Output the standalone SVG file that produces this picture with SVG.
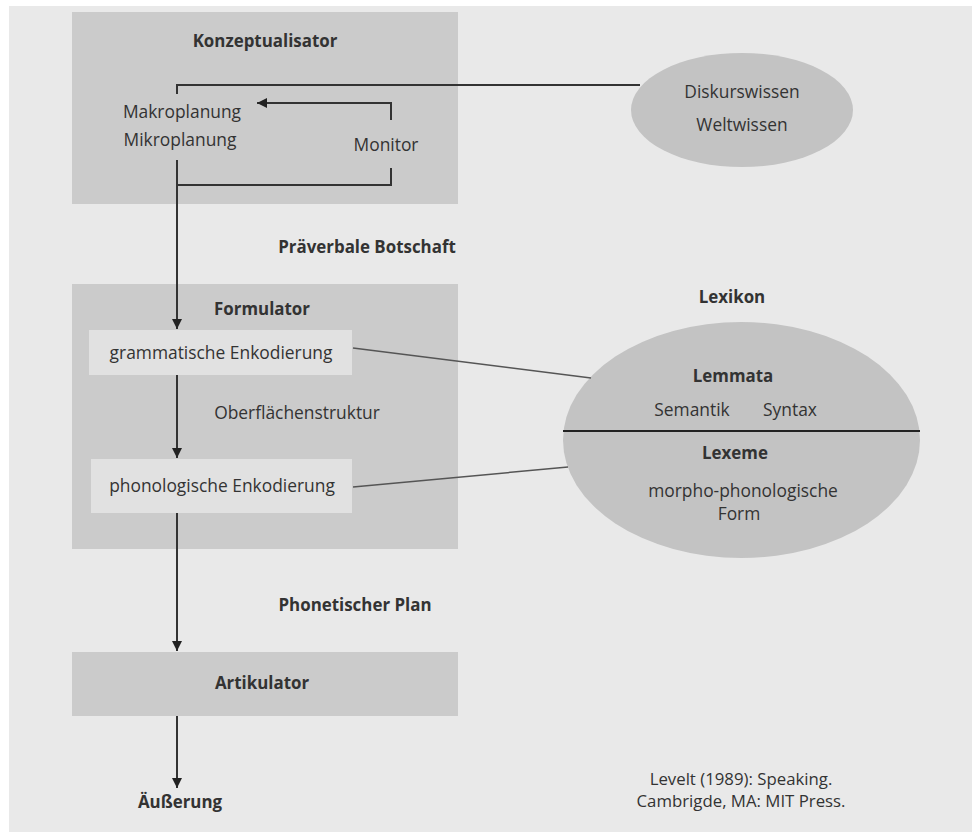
<svg xmlns="http://www.w3.org/2000/svg" width="972" height="832" viewBox="0 0 972 832">
<style>
text{font-family:"Open Sans","Noto Sans","Liberation Sans",sans-serif;font-size:17.4px;fill:#333;text-anchor:middle}
.b{font-weight:bold;font-size:16.9px}
.cit{font-size:16.8px}
.box{fill:#cbcbcb}
.inner{fill:#e1e1e1}
.ell{fill:#c3c3c3}
.ln{stroke:#333;stroke-width:2;fill:none}
.thin{stroke:#555;stroke-width:1.5;fill:none}
</style>
<defs>
<marker id="ah" viewBox="0 0 10 10" refX="10" refY="5" markerWidth="10" markerHeight="10" markerUnits="userSpaceOnUse" orient="auto">
<path d="M0,0 L10,5 L0,10 z" fill="#222"/>
</marker>
</defs>
<rect x="0" y="0" width="972" height="832" fill="#fff"/>
<rect x="9" y="6" width="963" height="826" fill="#e9e9e9"/>

<g id="konzeptualisator">
<rect class="box" x="72" y="12" width="386" height="192"/>
<text class="b" x="265" y="47">Konzeptualisator</text>
<text x="182" y="118">Makroplanung</text>
<text x="180" y="146">Mikroplanung</text>
<text x="386" y="151">Monitor</text>
</g>

<g id="wissen">
<ellipse class="ell" cx="742" cy="110" rx="111" ry="57"/>
<text x="742" y="98">Diskurswissen</text>
<text x="742" y="131">Weltwissen</text>
</g>

<g id="formulator">
<rect class="box" x="72" y="284" width="386" height="265"/>
<text class="b" x="262" y="315">Formulator</text>
</g>
<g id="grammatisch">
<rect class="inner" x="89" y="330" width="263" height="45"/>
<text x="221" y="359">grammatische Enkodierung</text>
</g>
<g id="phonologisch">
<rect class="inner" x="91" y="459" width="261" height="54"/>
<text x="222" y="492">phonologische Enkodierung</text>
</g>

<g id="lexikon">
<text class="b" x="732" y="303">Lexikon</text>
<ellipse class="ell" cx="741.5" cy="440" rx="178.5" ry="118"/>
<line x1="563" y1="431" x2="920" y2="431" stroke="#222" stroke-width="2"/>
<text class="b" x="733" y="382">Lemmata</text>
<text x="692" y="416">Semantik</text>
<text x="790" y="416">Syntax</text>
<text class="b" x="735" y="459">Lexeme</text>
<text x="743" y="497">morpho-phonologische</text>
<text x="739" y="520">Form</text>
</g>

<g id="artikulator">
<rect class="box" x="72" y="652" width="386" height="64"/>
<text class="b" x="262" y="689">Artikulator</text>
</g>

<g id="labels">
<text class="b" x="367" y="253">Präverbale Botschaft</text>
<text x="297" y="419">Oberflächenstruktur</text>
<text class="b" x="355" y="611">Phonetischer Plan</text>
<text class="b" x="180" y="808">Äußerung</text>
<text class="cit" x="741" y="785">Levelt (1989): Speaking.</text>
<text class="cit" x="741" y="807">Cambrigde, MA: MIT Press.</text>
</g>

<g id="connectors">
<path class="ln" d="M177,94 V85 H640"/>
<path class="ln" d="M391,120 V103 H257" marker-end="url(#ah)"/>
<path class="ln" d="M391,168 V185 H177"/>
<path class="ln" d="M177,160 V329" marker-end="url(#ah)"/>
<path class="ln" d="M177,375 V458" marker-end="url(#ah)"/>
<path class="ln" d="M177,513 V651" marker-end="url(#ah)"/>
<path class="ln" d="M177,716 V788" marker-end="url(#ah)"/>
<line class="thin" x1="353" y1="348" x2="591" y2="378"/>
<line class="thin" x1="353" y1="487" x2="568" y2="467"/>
</g>
</svg>
